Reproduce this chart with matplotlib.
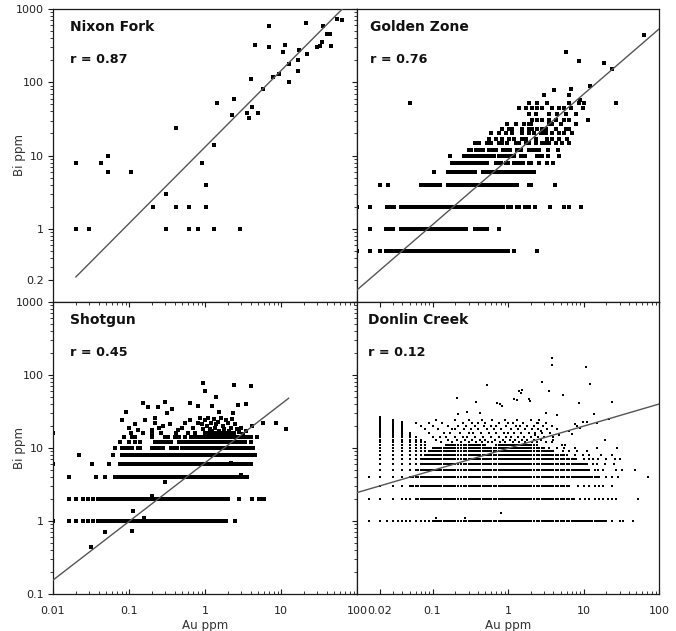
import matplotlib
matplotlib.use("Agg")
import matplotlib.pyplot as plt
from matplotlib.ticker import FixedLocator, FixedFormatter, LogLocator, NullFormatter

plt.rcParams['font.family'] = ['DejaVu Sans']

# assay steps for Au (dense rows are drawn on these values)
AU_MANT = [1.0, 1.05, 1.1, 1.15, 1.2, 1.25, 1.3, 1.4, 1.5, 1.6, 1.7, 1.8, 1.9, 2.0, 2.2,
           2.4, 2.6, 2.8, 3.0, 3.2, 3.4, 3.6, 3.8, 4.0, 4.3, 4.6, 5.0, 5.3, 5.6, 6.0,
           6.5, 7.0, 7.5, 8.0, 8.5, 9.0, 9.5]
AU_DECADES = [0.01, 0.1, 1, 10]
au_grid = [round(m * d, 6) for d in AU_DECADES for m in AU_MANT] + [100]
BI_INT = [1, 2, 3, 4, 5, 6, 7, 8, 9, 10, 11, 12, 13, 14, 15, 16, 17, 18, 19, 20,
          21, 22, 23, 24, 25, 26, 27, 28, 29, 30]

# ---- Nixon Fork
nf_au = [0.02, 0.02, 0.03, 0.043, 0.053, 0.053, 0.105, 0.21, 0.31, 0.31, 0.42, 0.42,
         0.61, 0.61, 0.82, 0.92, 1.04, 1.04, 1.33, 1.33, 1.44, 2.25, 2.44, 2.9, 3.54,
         3.84, 4.04, 4.1, 4.6, 5.03, 5.85, 7.0, 7.0, 7.9, 9.5, 10.5, 11.3, 12.8, 12.8,
         16.5, 16.8, 17.4, 21.6, 22.3, 30.2, 32.2, 34.5, 35.7, 40.8, 44, 45, 55, 64]
nf_bi = [8, 1, 1, 8, 10, 6, 6, 2, 3, 1, 24, 2, 2, 1, 1, 8, 4, 2, 1, 14, 52, 36, 60, 1,
         38, 32, 110, 46, 325, 38, 81, 580, 300, 117, 130, 260, 320, 100, 175, 200,
         143, 275, 640, 240, 300, 310, 350, 590, 455, 455, 310, 730, 710]
nf_fit_au = [0.02, 64]
nf_fit_bi = [0.22, 1000]

# ---- Golden Zone
gz_seg_bi = [0.5, 1, 1, 2, 2, 2, 2, 4, 4, 4, 4, 6, 6, 8, 8, 8, 8, 8, 8,
             10, 10, 10, 10, 12, 12, 12, 12, 12, 12]
gz_seg_lo = [0.032, 0.038, 0.35, 0.038, 1.0, 1.3, 1.7, 0.066, 0.094, 0.16, 1.9, 0.16, 0.45,
             0.18, 0.7, 0.95, 1.2, 1.5, 1.9, 0.26, 0.75, 1.5, 2.4, 0.29, 0.38, 0.56,
             0.85, 1.3, 1.9]
gz_seg_hi = [1.0, 0.28, 0.54, 0.88, 1.1, 1.4, 1.9, 0.086, 0.128, 1.3, 2.1, 0.37, 2.3,
             0.55, 0.8, 1.0, 1.3, 1.6, 2.0, 0.65, 1.2, 1.7, 2.9, 0.33, 0.46, 0.7,
             1.05, 1.5, 2.6]
gz_row_bi = [0.5, 1, 2, 4, 6, 8, 10, 12, 15, 17, 20, 23, 27, 31, 37, 44, 52]
gz_row_au = [
    [0.01, 0.015, 0.02, 0.024, 0.027, 0.03, 1.2, 2.45],
    [0.015, 0.024, 0.027, 0.03, 0.75],
    [0.01, 0.015, 0.025, 0.028, 0.031, 2.3, 3.6, 5.5, 6.4, 9.2],
    [0.02, 0.026, 4.2],
    [0.105],
    [2.6, 3.3, 3.9],
    [0.17, 3.4, 4.7],
    [3.4, 4.6],
    [0.37, 0.41, 0.53, 0.59, 0.76, 0.84, 0.98, 1.26, 1.4, 1.72, 1.8, 1.9, 2.33, 2.86,
     3.16, 3.5, 4.29, 5.26, 6.45],
    [0.56, 0.69, 0.84, 1.03, 1.2, 1.55, 1.72, 2.33, 3.33, 3.88, 4.75, 6.1],
    [0.59, 0.76, 0.93, 1.14, 1.55, 1.9, 2.21, 2.72, 2.86, 3.16, 3.88, 4.75, 5.5, 7.1],
    [0.84, 1.03, 1.14, 1.55, 1.9, 2.1, 2.45, 2.86, 3.16, 4.29, 5.8, 6.45],
    [0.98, 1.26, 1.63, 1.9, 2.0, 3.5, 3.88, 5.0, 7.9],
    [2.1, 2.45, 2.86, 3.5, 4.29, 5.5, 6.45, 11.3],
    [1.9, 2.33, 3.5, 4.52, 5.8, 7.9],
    [1.4, 1.72, 2.1, 2.45, 2.86, 3.88, 4.75, 5.5, 6.8, 9.7],
    [0.05, 1.9, 2.45, 3.33, 6.45, 8.75, 10.2, 26.8],
]
gz_extra_au = [3.0, 4.1, 6.4, 6.8, 12.2, 18.8, 8.8, 5.9, 24.2, 63, 8.9]
gz_extra_bi = [68, 78, 68, 80, 89, 181, 197, 256, 152, 442, 57]
gz_fit_au = [0.01, 100]
gz_fit_bi = [0.146, 533]

# ---- Shotgun
sg_seg_bi = [1, 2, 4, 6, 8, 10, 10, 10, 10, 10, 12, 12, 12, 12, 14, 16]
sg_seg_lo = [0.042, 0.05, 0.063, 0.072, 0.08, 0.08, 0.13, 0.2, 0.36, 0.5, 0.22, 0.3,
             0.44, 0.6, 0.9, 1.0]
sg_seg_hi = [1.96, 2.1, 3.6, 4.1, 4.9, 0.11, 0.145, 0.28, 0.45, 4.5, 0.27, 0.36, 0.54,
             3.5, 4.2, 2.5]
sg_row_bi = [1, 2, 4, 6, 8, 10, 12, 14, 16]
sg_row_au = [
    [0.01, 0.016, 0.02, 0.025, 0.029, 0.034, 0.039, 2.5],
    [0.016, 0.02, 0.025, 0.029, 0.034, 0.039, 0.044, 2.8, 4.2, 5.2, 5.6, 6.0],
    [0.016, 0.037, 0.048],
    [0.01, 0.0325, 0.054],
    [0.022, 0.062],
    [0.065],
    [0.075, 0.1, 0.12, 0.14, 4.0],
    [0.085, 0.11, 0.12, 0.2, 0.3, 0.33, 0.4, 0.45, 0.55, 0.65, 0.72, 0.8, 4.9],
    [0.01, 0.105, 0.155, 0.2, 0.26, 0.42, 0.6, 0.73],
]
sg_extra_au = [0.2, 0.113, 0.156, 0.108, 0.048, 0.032, 0.3, 3.0, 2.2,
               0.93, 0.99, 2.4, 4.0, 1.4, 0.155, 0.18, 0.24, 0.3, 0.32, 0.37, 0.63, 0.81,
               1.22, 1.55, 2.34, 2.7, 3.5, 0.09, 0.08, 0.12, 0.163, 0.2, 0.22, 0.22, 0.28,
               0.44, 0.55, 0.63, 0.81, 5.8, 8.7, 11.7, 4.2,
               1.0, 1.05, 1.1, 1.15, 1.2, 1.25, 1.3, 1.35, 1.4, 1.5, 1.55, 1.6, 1.7, 1.8,
               1.9, 2.0, 2.1, 2.2, 2.3, 2.5, 2.6, 2.8, 3.0, 3.2, 3.5, 0.95, 0.9, 0.85,
               0.1, 0.13, 0.25, 0.35, 0.5, 0.7]
sg_extra_bi = [2.2, 1.38, 1.09, 0.74, 0.70, 0.44, 3.4, 4.3, 6.2,
               78, 60, 73, 70, 50, 42, 36, 37, 43, 30, 34, 42, 38,
               38, 31, 30, 39, 40, 31, 24, 21, 24, 17.5, 26, 22, 20,
               17.6, 22, 24, 22, 22, 22, 18, 20,
               24, 20, 26, 18, 22, 17, 25, 19, 21, 23, 17, 26, 20, 18,
               24, 22, 17, 19, 25, 21, 18, 16.5, 19, 15.5, 17, 18, 21, 26,
               19, 17.5, 19, 21, 19, 19]
sg_fit_au = [0.01, 12.6]
sg_fit_bi = [0.155, 48]

# ---- Donlin Creek
dc_seg_bi = [1, 2, 3, 4, 5, 6, 7, 8, 9, 10, 11, 11]
dc_seg_lo = [0.1, 0.06, 0.05, 0.05, 0.06, 0.07, 0.075, 0.08, 0.09, 0.1, 0.15, 0.7]
dc_seg_hi = [20, 7.7, 6.7, 16, 12, 11, 8, 6, 4, 3, 0.5, 2.5]
dc_col_au = [0.02, 0.03, 0.04, 0.05, 0.06, 0.07, 0.08]
dc_col_top = [27, 24, 23, 16, 14, 13, 12]
dc_row_bi = [1, 2, 3, 4, 5, 6, 7, 8, 9, 10, 12, 13, 14, 16, 18, 20, 22, 24]
dc_row_au = [
    [0.0143, 0.025, 0.035, 0.045, 0.09, 24, 30, 33, 45],
    [0.0143, 0.045, 9, 10.5, 12, 14, 16, 18, 21, 24, 27, 53],
    [8.5, 10, 12, 14, 16, 18, 23.5],
    [0.0143, 20, 24, 28.5, 72],
    [14, 15.6, 18, 27, 32, 48],
    [13.5, 15, 19, 25],
    [10, 12, 13.5, 15.6, 20, 26, 30],
    [7.6, 9.9, 12, 17, 24],
    [5.4, 6.5, 8.3, 11],
    [3.5, 4.5, 5.6, 7.6, 15, 28],
    [0.13, 0.18, 0.24, 0.3, 0.38, 0.45, 0.55, 0.62, 0.78, 0.9, 1.15, 1.4, 1.7, 2.1,
     2.4, 3.2, 3.8],
    [0.11, 0.16, 0.21, 0.27, 0.33, 0.42, 0.5, 0.68, 0.85, 1.05, 1.25, 1.55, 1.8, 2.2, 2.7],
    [0.1, 0.125, 0.15, 0.2, 0.25, 0.29, 0.37, 0.46, 0.6, 0.75, 0.95, 1.1, 1.35, 1.65,
     2.0, 2.5, 3.0, 4.0],
    [0.09, 0.14, 0.17, 0.23, 0.3, 0.34, 0.44, 0.56, 0.7, 0.88, 1.0, 1.2, 1.5, 1.9, 2.3,
     2.8, 3.6],
    [0.08, 0.12, 0.18, 0.2, 0.26, 0.32, 0.4, 0.52, 0.65, 0.8, 1.1, 1.35, 1.7, 2.05, 2.5,
     3.3, 4.4],
    [0.07, 0.1, 0.16, 0.22, 0.28, 0.36, 0.48, 0.6, 0.7, 0.95, 1.26, 1.45, 1.8, 2.2, 2.9,
     3.8],
    [0.06, 0.09, 0.135, 0.25, 0.33, 0.4, 0.5, 0.75, 1.0, 1.15, 1.6, 2.4, 3.2],
    [0.11, 0.2, 0.3, 0.45, 0.62, 0.9, 1.3, 2.0, 2.6],
]
dc_extra_au = [0.11, 0.27, 0.8, 3.8, 3.8, 10.7, 12.2, 0.53, 2.8, 3.5, 5.4, 1.4, 1.5, 1.55,
               1.2, 1.3, 1.9, 1.95, 0.72, 0.78, 0.84, 0.21, 0.38, 8.6, 24, 13.8, 22, 0.29,
               0.22, 0.43, 3.15, 4.5, 19.5, 9.9, 11, 7.6, 6.5, 7.0, 8.3, 9.0, 15, 2.5,
               2.3, 2.7, 3.9, 4.7, 5.2, 5.7]
dc_extra_bi = [1.1, 1.1, 1.3, 169, 137, 130, 75, 73, 81, 60, 53, 60, 57, 62,
               47, 45, 47, 44, 42, 40, 38, 48, 43, 41, 43, 29, 25, 31,
               29, 30, 30, 28, 13, 23, 23, 21, 17, 15.5, 20, 19, 22, 22,
               15, 17, 13, 15, 11, 11]
dc_fit_au = [0.01, 100]
dc_fit_bi = [2.45, 40]


def row_points(bis, au_lists):
    xs, ys = [], []
    for b, aus in zip(bis, au_lists):
        xs += aus
        ys += [b] * len(aus)
    return xs, ys


def seg_points(bis, los, his):
    xs, ys = [], []
    for b, lo, hi in zip(bis, los, his):
        sel = [a for a in au_grid if lo * 0.995 <= a <= hi * 1.005]
        xs += sel
        ys += [b] * len(sel)
    return xs, ys


def col_points(aus, tops):
    xs, ys = [], []
    for a, top in zip(aus, tops):
        sel = [b for b in BI_INT if b <= top]
        xs += [a] * len(sel)
        ys += sel
    return xs, ys


fig = plt.figure(figsize=(6.76, 6.31), dpi=100)
L, WL = 53 / 676, 304 / 676
R, WR = 357 / 676, 302 / 676
BT, HT = 329 / 631, 293 / 631
BB, HB = 37 / 631, 292 / 631

ax_nf = fig.add_axes([L, BT, WL, HT])
ax_gz = fig.add_axes([R, BT, WR, HT])
ax_sg = fig.add_axes([L, BB, WL, HB])
ax_dc = fig.add_axes([R, BB, WR, HB])


def setup(ax, yvals, ytext, xvals, xtext, bottom_row, left_col):
    ax.set_xscale('log')
    ax.set_yscale('log')
    ax.set_xlim(0.01, 100)
    ax.set_ylim(0.1, 1000)
    for s in ax.spines.values():
        s.set_linewidth(0.9)
        s.set_color('#1a1a1a')
    ax.yaxis.set_major_locator(FixedLocator(yvals))
    ax.yaxis.set_minor_locator(LogLocator(base=10, subs=(2, 3, 4, 5, 6, 7, 8, 9), numticks=20))
    ax.yaxis.set_minor_formatter(NullFormatter())
    if left_col:
        ax.yaxis.set_major_formatter(FixedFormatter(ytext))
    else:
        ax.yaxis.set_major_formatter(NullFormatter())
    ax.tick_params(axis='y', which='major', direction='out', length=3.6, width=0.8,
                   pad=3.2, labelsize=8, labelcolor='#222222', color='#1a1a1a',
                   left=True, right=False, labelleft=left_col)
    ax.tick_params(axis='y', which='minor', direction='out', length=2.2, width=0.6,
                   color='#1a1a1a', left=True, right=False)
    ax.xaxis.set_major_locator(FixedLocator(xvals))
    ax.xaxis.set_minor_locator(LogLocator(base=10, subs=(2, 3, 4, 5, 6, 7, 8, 9), numticks=20))
    ax.xaxis.set_minor_formatter(NullFormatter())
    if bottom_row:
        ax.xaxis.set_major_formatter(FixedFormatter(xtext))
        ax.tick_params(axis='x', which='major', direction='in', length=3.6, width=0.8,
                       pad=9, labelsize=8, labelcolor='#222222', color='#1a1a1a',
                       top=True, bottom=True)
        ax.tick_params(axis='x', which='minor', direction='in', length=2.2, width=0.6,
                       color='#1a1a1a', top=True, bottom=True)
    else:
        ax.xaxis.set_major_formatter(NullFormatter())
        ax.tick_params(axis='x', which='both', length=0, labelbottom=False)


setup(ax_nf, [0.2, 1, 10, 100, 1000], ['0.2', '1', '10', '100', '1000'],
      [0.01, 0.1, 1, 10, 100], None, False, True)
setup(ax_gz, [0.1, 1, 10, 100, 1000], None, [0.01, 0.1, 1, 10, 100], None, False, False)
setup(ax_sg, [0.1, 1, 10, 100, 1000], ['0.1', '1', '10', '100', '1000'],
      [0.01, 0.1, 1, 10, 100], ['0.01', '0.1', '1', '10', '100'], True, True)
setup(ax_dc, [0.1, 1, 10, 100, 1000], None,
      [0.02, 0.1, 1, 10, 100], ['0.02', '0.1', '1', '10', '100'], True, False)

# Nixon Fork
ax_nf.scatter(nf_au, nf_bi, s=9.5, marker='s', c='black', linewidths=0, zorder=2)
ax_nf.plot(nf_fit_au, nf_fit_bi, color='#555555', lw=1.0, zorder=3)

# Golden Zone
x1, y1 = seg_points(gz_seg_bi, gz_seg_lo, gz_seg_hi)
x2, y2 = row_points(gz_row_bi, gz_row_au)
ax_gz.scatter(x1 + x2 + gz_extra_au, y1 + y2 + gz_extra_bi, s=7.5, marker='s', c='black',
              linewidths=0, zorder=2)
ax_gz.plot(gz_fit_au, gz_fit_bi, color='#555555', lw=1.0, zorder=3)

# Shotgun
x1, y1 = seg_points(sg_seg_bi, sg_seg_lo, sg_seg_hi)
x2, y2 = row_points(sg_row_bi, sg_row_au)
ax_sg.scatter(x1 + x2 + sg_extra_au, y1 + y2 + sg_extra_bi, s=7.5, marker='s', c='black',
              linewidths=0, zorder=2)
ax_sg.plot(sg_fit_au, sg_fit_bi, color='#555555', lw=1.0, zorder=3)

# Donlin Creek
x1, y1 = seg_points(dc_seg_bi, dc_seg_lo, dc_seg_hi)
x2, y2 = row_points(dc_row_bi, dc_row_au)
x3, y3 = col_points(dc_col_au, dc_col_top)
ax_dc.scatter(x1 + x2 + x3 + dc_extra_au, y1 + y2 + y3 + dc_extra_bi, s=4, marker='s',
              c='black', linewidths=0, zorder=2)
ax_dc.plot(dc_fit_au, dc_fit_bi, color='#555555', lw=1.0, zorder=3)

panels = [(ax_nf, 'Nixon Fork', 'r = 0.87', 0.056),
          (ax_gz, 'Golden Zone', 'r = 0.76', 0.044),
          (ax_sg, 'Shotgun', 'r = 0.45', 0.056),
          (ax_dc, 'Donlin Creek', 'r = 0.12', 0.037)]
for ax, name, rtxt, xo in panels:
    ax.text(xo, 0.925, name, transform=ax.transAxes, fontsize=10, fontweight='bold',
            color='#111111', va='baseline', ha='left')
    ax.text(xo, 0.815, rtxt, transform=ax.transAxes, fontsize=9.2, fontweight='bold',
            color='#111111', va='baseline', ha='left')

fig.text(19.5 / 676, 1 - 155.5 / 631, 'Bi ppm', rotation=90, ha='center', va='center',
         fontsize=8.6, color='#333333')
fig.text(19.5 / 676, 1 - 448 / 631, 'Bi ppm', rotation=90, ha='center', va='center',
         fontsize=8.6, color='#333333')
fig.text(205 / 676, 1 - 625 / 631, 'Au ppm', ha='center', va='center',
         fontsize=8.6, color='#333333')
fig.text(508 / 676, 1 - 625 / 631, 'Au ppm', ha='center', va='center',
         fontsize=8.6, color='#333333')

fig.savefig('out.png', dpi=100)
